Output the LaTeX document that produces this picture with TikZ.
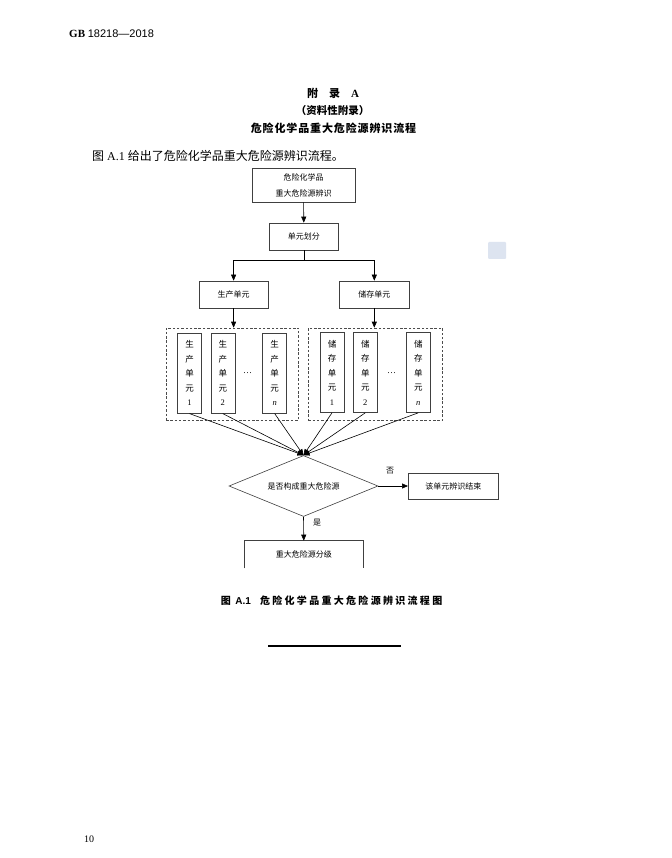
\documentclass[tikz,border=0pt]{standalone}
\usepackage{fontspec}
\usetikzlibrary{arrows.meta,shapes.geometric}
\setmainfont{Liberation Serif}
\newfontfamily\cjk{Noto Sans CJK SC}
\newfontfamily\cjkt{Noto Sans CJK SC}[LetterSpace=8]
\newfontfamily\cjkc{Noto Sans CJK SC}[LetterSpace=23]
\newfontfamily\lsans{Liberation Sans}
\definecolor{wmark}{RGB}{221,228,240}
\begin{document}
\begin{tikzpicture}[x=1pt,y=-1pt,
  txt/.style={inner sep=0pt},
  box/.style={draw=black!75, line width=0.6pt, inner sep=0pt, align=center,
    font=\cjk\fontsize{8}{16}\selectfont},
  vbox/.style={box, minimum width=24pt, minimum height=80pt,
    font=\cjk\fontsize{8.5}{14.5}\selectfont},
  grp/.style={draw=black!70, line width=0.6pt, dash pattern=on 2.5pt off 1.8pt, inner sep=0pt},
  arr/.style={line width=0.6pt, -{Triangle[length=6pt,width=5pt]}},
  ln/.style={line width=0.6pt},
  lbl/.style={inner sep=0pt, font=\cjk\fontsize{8}{10}\selectfont}]
\useasboundingbox (0,0) rectangle (671,858);
\fill[white] (0,0) rectangle (671,858);

% page texts
\node[txt, anchor=west] (hdr) at (69,33.5) {\fontsize{11}{13}\selectfont{\bfseries GB} {\lsans 18218—2018}};
\node[txt] (appx) at (333,93) {\cjk\bfseries\fontsize{11}{13}\selectfont 附\quad 录\quad {\rmfamily\bfseries A}};
\node[txt] (info) at (332.5,111) {\cjk\bfseries\fontsize{10.5}{13}\selectfont （资料性附录）};
\node[txt] (ttl) at (333.5,128.5) {\cjkt\bfseries\fontsize{11}{13}\selectfont 危险化学品重大危险源辨识流程};
\node[txt, anchor=west] (intro) at (92,156) {\fontsize{12}{14}\selectfont{\cjk 图} A.1 {\cjk 给出了危险化学品重大危险源辨识流程。}};

% watermark
\fill[wmark, rounded corners=1pt] (488,242) rectangle (506,259);

% flow boxes
\node[box, minimum width=103pt, minimum height=34pt] (start) at (303.6,185) {危险化学品\\重大危险源辨识};
\node[box, minimum width=69pt, minimum height=27pt] (unit) at (303.8,236.5) {单元划分};
\node[box, minimum width=69pt, minimum height=27pt] (prod) at (233.6,294.5) {生产单元};
\node[box, minimum width=70pt, minimum height=27pt] (stor) at (374.3,294.5) {储存单元};

\node[grp, minimum width=132.7pt, minimum height=92pt] (gp) at (232.4,374) {};
\node[grp, minimum width=134.4pt, minimum height=92pt] (gs) at (375.5,374) {};

\node[vbox] (p1) at (189.5,373.3) {生\\产\\单\\元\\{\rmfamily 1}};
\node[vbox] (p2) at (222.8,373.3) {生\\产\\单\\元\\{\rmfamily 2}};
\node[vbox] (pn) at (274.7,373.3) {生\\产\\单\\元\\{\rmfamily\itshape n}};
\node[vbox] (s1) at (332,372.5) {储\\存\\单\\元\\{\rmfamily 1}};
\node[vbox] (s2) at (365.3,372.5) {储\\存\\单\\元\\{\rmfamily 2}};
\node[vbox] (sn) at (418.3,372.5) {储\\存\\单\\元\\{\rmfamily\itshape n}};
\node[txt, font=\fontsize{9}{9}\selectfont] (dp) at (247.5,373) {…};
\node[txt, font=\fontsize{9}{9}\selectfont] (ds) at (391.7,373) {…};

\node[diamond, draw=black!75, line width=0.6pt, aspect=2.44, inner sep=0pt,
  minimum width=149pt, minimum height=61pt, font=\cjk\fontsize{8}{10}\selectfont] (dec) at (303.5,486) {是否构成重大危险源};
\node[box, minimum width=90pt, minimum height=26pt] (end) at (453.3,486) {该单元辨识结束};
\node[box, draw=none, minimum width=117.7pt, minimum height=27pt] (grade) at (303.8,554.5) {重大危险源分级};
\draw[draw=black!75, line width=0.6pt] (grade.south west) -- (grade.north west) -- (grade.north east) -- (grade.south east);

% connectors
\coordinate (split) at (303.8,260);
\draw[arr] (start.south) -- (unit.north);
\draw[ln] (unit.south) -- (split);
\draw[arr] (split) -| (prod.north);
\draw[arr] (split) -| (stor.north);
\draw[arr] (prod.south) -- (prod.south |- gp.north);
\draw[arr] (stor.south) -- (stor.south |- gs.north);
\foreach \n in {p1,p2,pn,s1,s2,sn} \draw[arr] (\n.south) -- (dec.north);
\draw[arr] (dec.east) -- (end.west);
\draw[arr] (dec.south) -- (grade.north);
\node[lbl] (no) at (390,471) {否};
\node[lbl] (yes) at (317,523) {是};

% caption
\node[txt, anchor=west] (cap) at (220.7,601) {\cjkc\bfseries\fontsize{10}{12}\selectfont 图 {\lsans\bfseries A.1}\hspace{9pt}危险化学品重大危险源辨识流程图};

% footer
\draw[line width=1.2pt] (268.4,646) -- (400.9,646);
\node[txt, font=\fontsize{10}{12}\selectfont] (pg) at (89,839) {10};
\end{tikzpicture}
\end{document}
